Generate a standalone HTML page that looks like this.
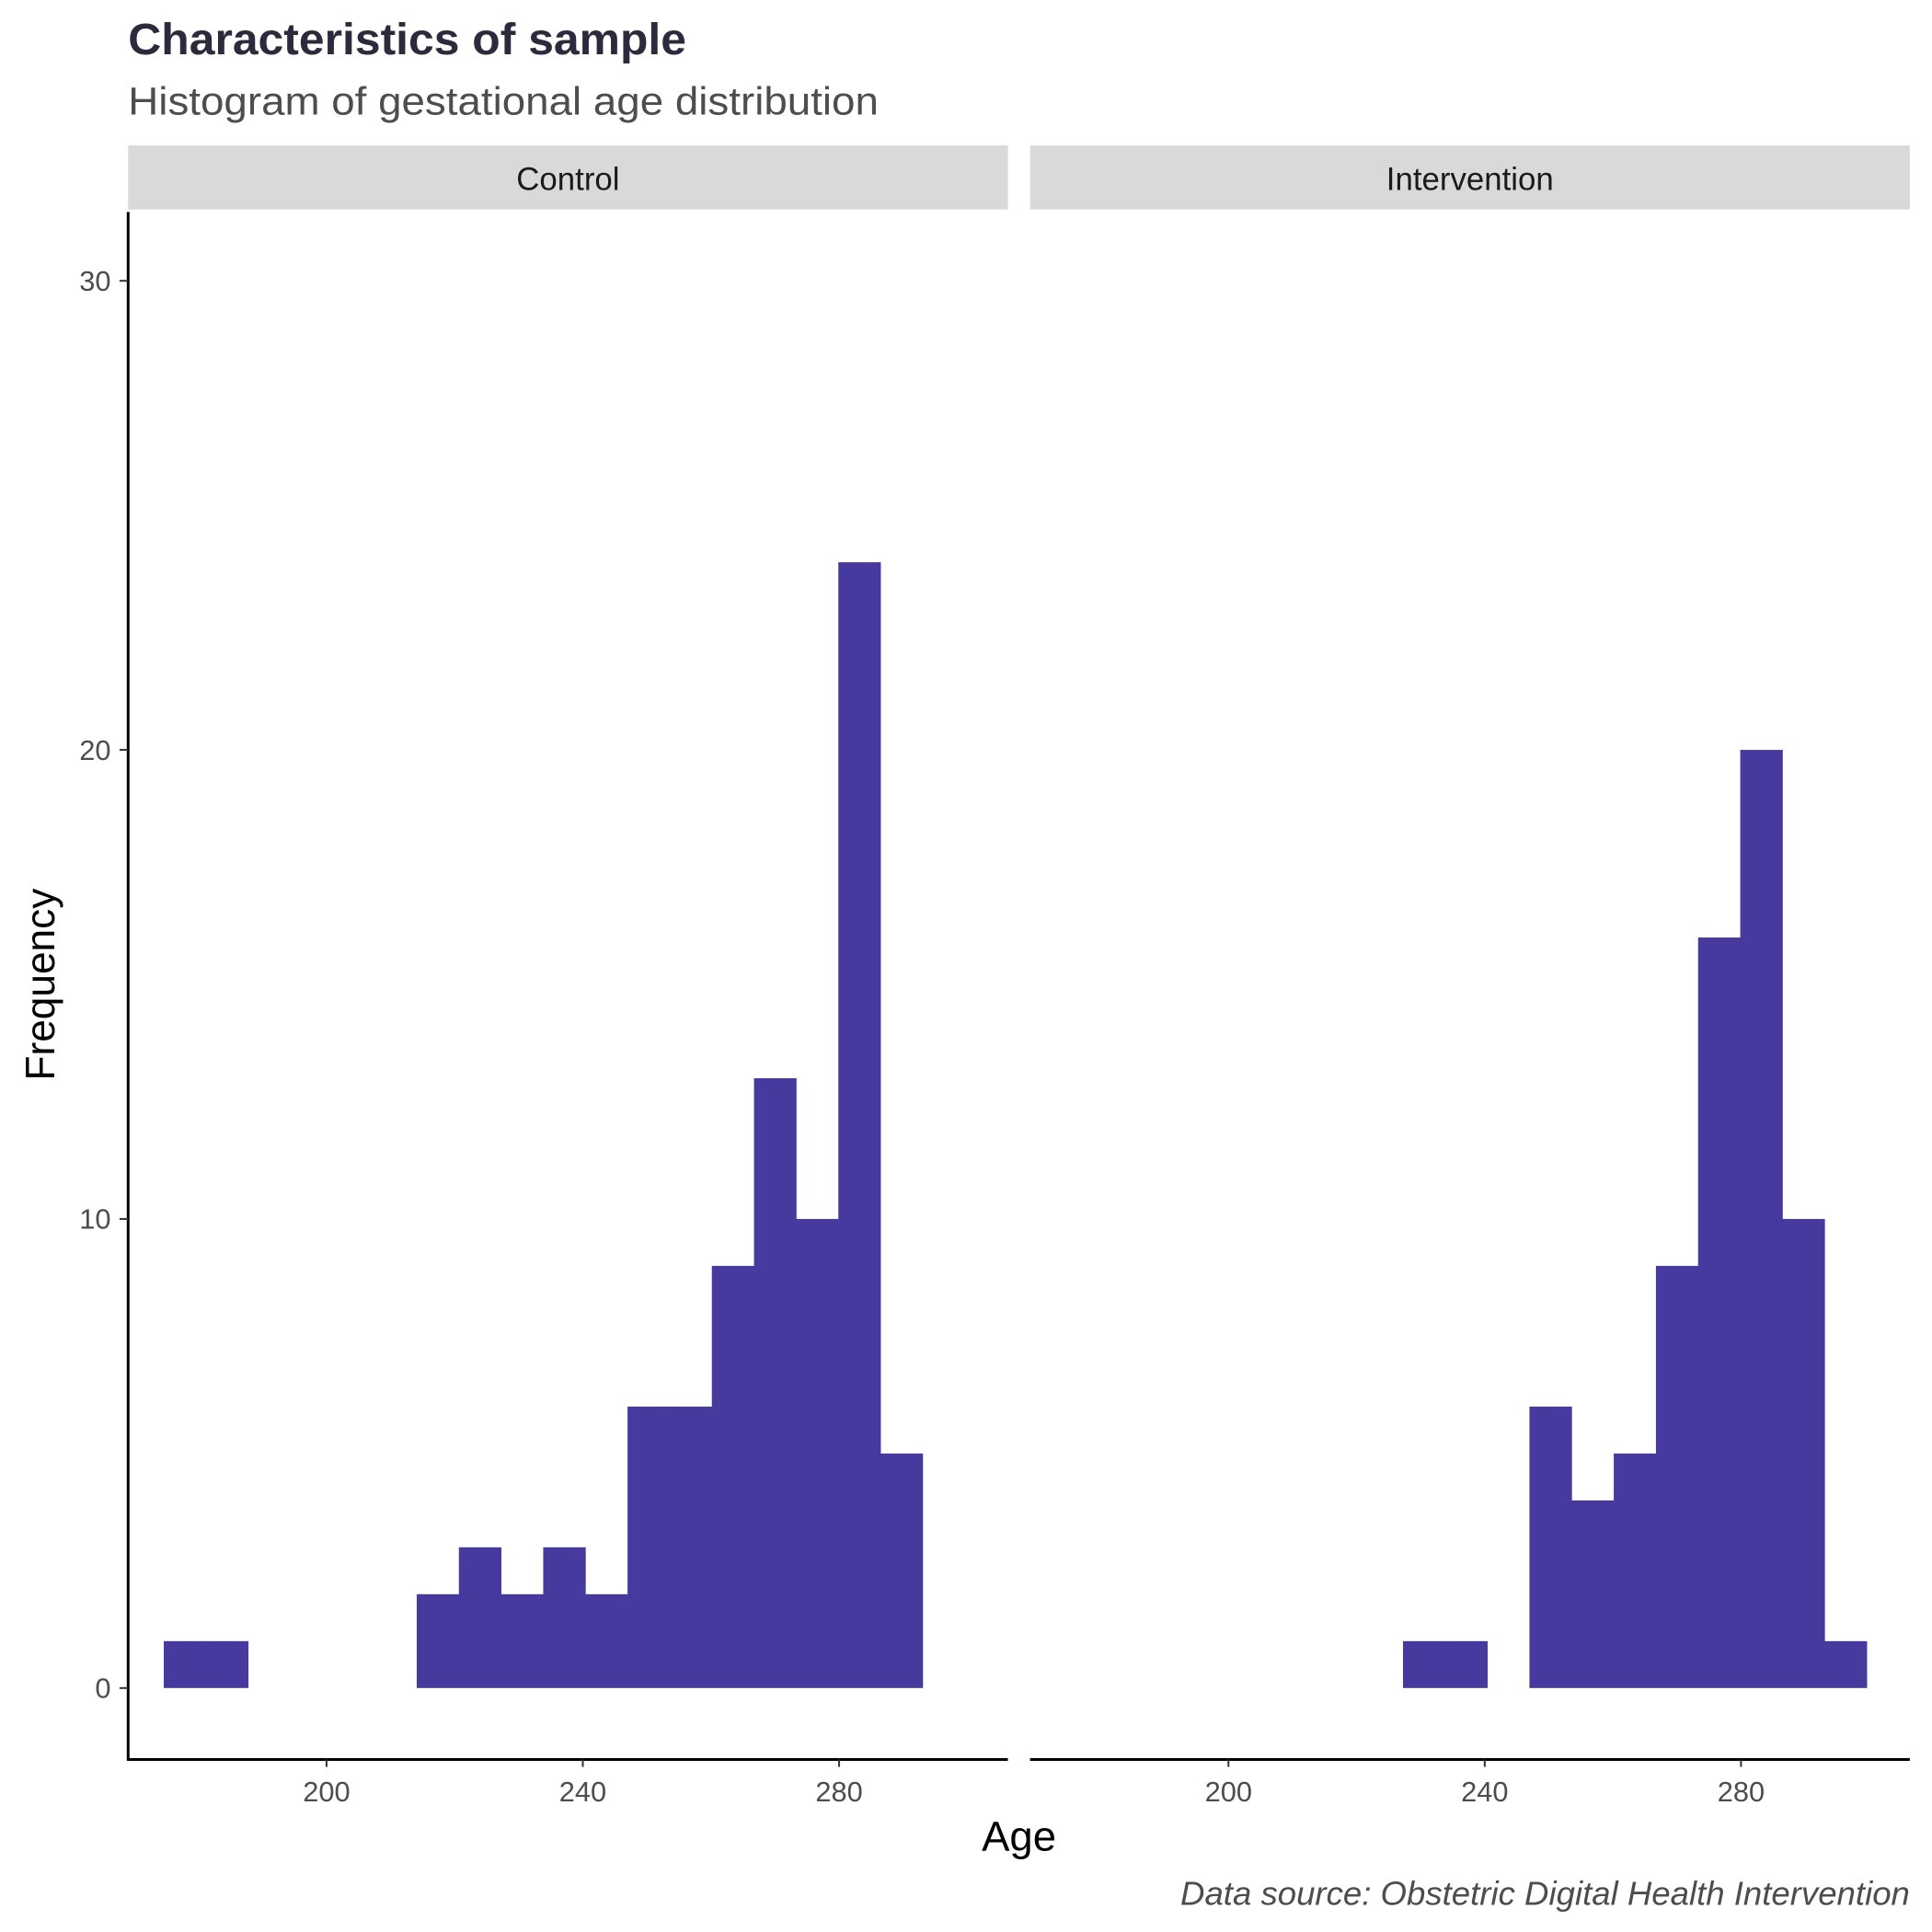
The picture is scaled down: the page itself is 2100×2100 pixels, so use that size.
<!DOCTYPE html>
<html><head><meta charset="utf-8"><style>html,body{margin:0;padding:0;background:#fff}svg{display:block}</style></head>
<body>
<svg id="chart" width="2100" height="2100" viewBox="0 0 1568 1568" xmlns="http://www.w3.org/2000/svg" font-family="Liberation Sans, sans-serif">
<rect width="1568" height="1568" fill="#fff"/>
<text x="104" y="44" font-size="36" font-weight="bold" fill="#2d2a3e" textLength="453" lengthAdjust="spacingAndGlyphs">Characteristics of sample</text>
<text x="104" y="93" font-size="32" fill="#4d4d4d" textLength="609" lengthAdjust="spacingAndGlyphs">Histogram of gestational age distribution</text>
<rect x="104" y="118" width="714" height="52" fill="#d9d9d9"/>
<text x="461" y="154" font-size="26" text-anchor="middle" fill="#1a1a1a">Control</text>
<rect x="836" y="118" width="714" height="52" fill="#d9d9d9"/>
<text x="1193" y="154" font-size="26" text-anchor="middle" fill="#1a1a1a">Intervention</text>
<g id="marks"></g>
<text transform="translate(44,799) rotate(-90)" font-size="33" text-anchor="middle" fill="#000">Frequency</text>
<text x="827" y="1502" font-size="34" text-anchor="middle" fill="#000">Age</text>
<text x="1550" y="1546" font-size="27" font-style="italic" text-anchor="end" fill="#4d4d4d" textLength="592" lengthAdjust="spacingAndGlyphs">Data source: Obstetric Digital Health Intervention</text>
</svg>
<script>
const binStart = 174.6;
const binWidth = 6.58;
const controlCounts = [1,1,0,0,0,0,2,3,2,3,2,6,6,9,13,10,24,5,0];
const interventionCounts = [0,0,0,0,0,0,0,0,1,1,0,6,4,5,9,16,20,10,1];
const xTicks = [200,240,280];
const yTicks = [0,10,20,30];

const NS = 'http://www.w3.org/2000/svg';
const g = document.getElementById('marks');
const panels = [{off:0,left:104,right:818,counts:controlCounts,name:'control'},{off:732,left:836,right:1550,counts:interventionCounts,name:'intervention'}];
function xs(v, off){ return 265 + (v-200)*5.2 + off; }
function ys(v){ return 1370 - v*38.07; }
function mk(tag, attrs){ const e=document.createElementNS(NS,tag); for(const k in attrs) e.setAttribute(k,attrs[k]); g.appendChild(e); return e; }

panels.forEach(p=>{
  p.counts.forEach((c,i)=>{
    if(c<=0) return;
    const x0=xs(binStart+i*binWidth,p.off), x1=xs(binStart+(i+1)*binWidth,p.off);
    const r=mk('rect',{x:x0,y:ys(c),width:x1-x0+0.3,height:ys(0)-ys(c),fill:'#463a9f'});
    
    
  });
  const ax=mk('line',{x1:p.left,x2:p.right,y1:1428,y2:1428,stroke:'#000','stroke-width':2.2});
  
  
  xTicks.forEach(t=>{
    const x=xs(t,p.off);
    const tk=mk('line',{x1:x,x2:x,y1:1428,y2:1434,stroke:'#333','stroke-width':1.5});
    
    
    const tl=mk('text',{x:x,y:1462,'font-size':23,'text-anchor':'middle',fill:'#4d4d4d'});
    tl.textContent=t;
    
    
  });
});
const yax=mk('line',{x1:104,x2:104,y1:172,y2:1429,stroke:'#000','stroke-width':2.2});


yTicks.forEach(t=>{
  const y=ys(t);
  const tk=mk('line',{x1:97,x2:104,y1:y,y2:y,stroke:'#333','stroke-width':1.5});
  
  
  const tl=mk('text',{x:90,y:y+8,'font-size':23,'text-anchor':'end',fill:'#4d4d4d'});
  tl.textContent=t;
  
  
});
</script>
</body></html>
